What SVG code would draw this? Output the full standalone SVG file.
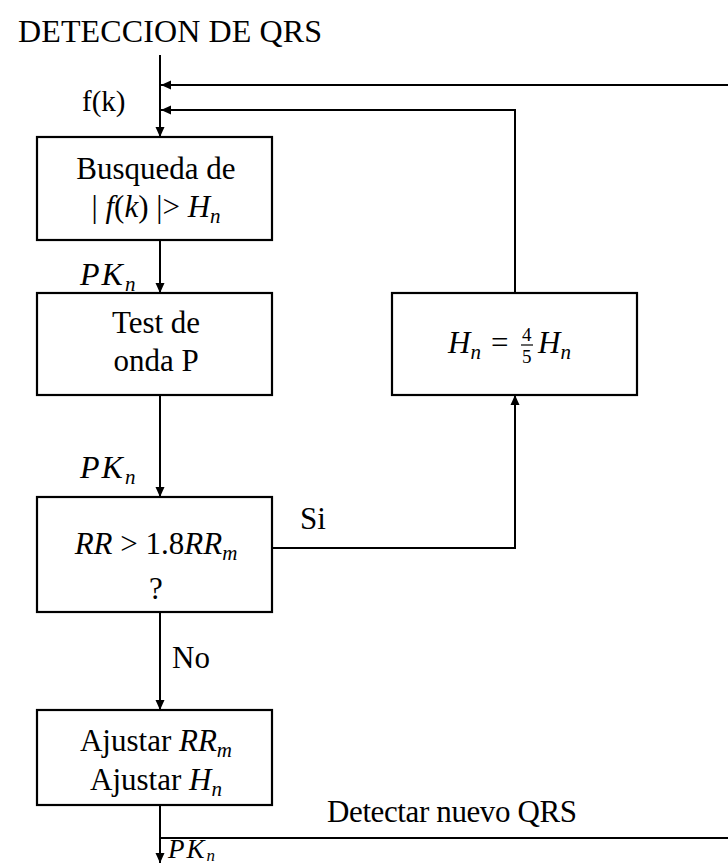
<svg xmlns="http://www.w3.org/2000/svg" width="728" height="864" viewBox="0 0 728 864">
<defs>
<marker id="ah" viewBox="0 0 10 10" refX="10" refY="5" markerWidth="10" markerHeight="10" markerUnits="userSpaceOnUse" orient="auto">
<path d="M0,0.5 L10,5 L0,9.5 z" fill="#000"/>
</marker>
<style>
.box{fill:#fff;stroke:#000;stroke-width:2.2}
.ln{fill:none;stroke:#000;stroke-width:2}
.t{font-family:"Liberation Serif","Times New Roman",serif;font-size:31px;fill:#000}
.c{text-anchor:middle}
.i{font-style:italic}
.s{font-size:21px;font-style:italic}
.pk{font-style:italic;font-size:32px;letter-spacing:2px}
</style>
</defs>
<rect width="728" height="864" fill="#fff"/>
<text class="t" x="18" y="42" style="font-size:32px" textLength="304">DETECCION DE QRS</text>
<g id="connectors">
<line class="ln" x1="160" y1="55" x2="160" y2="137" marker-end="url(#ah)"/>
<line class="ln" x1="728" y1="85" x2="161" y2="85" marker-end="url(#ah)"/>
<polyline class="ln" points="515,293 515,110 161,110" marker-end="url(#ah)"/>
<line class="ln" x1="160" y1="240" x2="160" y2="293" marker-end="url(#ah)"/>
<line class="ln" x1="160" y1="395" x2="160" y2="497" marker-end="url(#ah)"/>
<polyline class="ln" points="272,548 515,548 515,395" marker-end="url(#ah)"/>
<line class="ln" x1="160" y1="612" x2="160" y2="710" marker-end="url(#ah)"/>
<line class="ln" x1="160" y1="805" x2="160" y2="863" marker-end="url(#ah)"/>
<line class="ln" x1="160" y1="838" x2="728" y2="838"/>
<text class="t" x="82" y="111" style="font-size:29px">f(k)</text>
<text class="t pk" x="80" y="285">PK<tspan class="s" dy="6">n</tspan></text>
<text class="t pk" x="80" y="478">PK<tspan class="s" dy="6">n</tspan></text>
<text class="t" x="300" y="529">Si</text>
<text class="t" x="172" y="668">No</text>
<text class="t" x="327" y="822" textLength="250">Detectar nuevo QRS</text>
<text class="t pk" x="168" y="858" style="font-size:27px">PK<tspan class="s" dy="3" style="font-size:17px">n</tspan></text>
</g>
<g id="busqueda">
<rect class="box" x="37" y="137" width="235" height="103"/>
<text class="t c" x="156" y="179">Busqueda de</text>
<text class="t c" x="156" y="217">| <tspan class="i">f</tspan>(<tspan class="i">k</tspan>) |&gt; <tspan class="i">H</tspan><tspan class="s" dy="6">n</tspan></text>
</g>
<g id="test">
<rect class="box" x="37" y="293" width="235" height="102"/>
<text class="t c" x="156" y="333">Test de</text>
<text class="t c" x="156" y="371">onda P</text>
</g>
<g id="rr">
<rect class="box" x="37" y="497" width="235" height="115"/>
<text class="t c" x="156" y="554"><tspan class="i">RR</tspan> &gt; 1.8<tspan class="i">RR</tspan><tspan class="s" dy="6">m</tspan></text>
<text class="t c" x="156" y="599">?</text>
</g>
<g id="hn">
<rect class="box" x="392" y="293" width="245" height="102"/>
<text class="t i" x="448" y="353">H<tspan class="s" dy="6">n</tspan></text>
<text class="t" x="491" y="353">=</text>
<text class="t" x="522" y="341" style="font-size:19px">4</text>
<line x1="521" y1="345" x2="533" y2="345" stroke="#000" stroke-width="1.2"/>
<text class="t" x="522" y="363" style="font-size:19px">5</text>
<text class="t i" x="538" y="353">H<tspan class="s" dy="6">n</tspan></text>
</g>
<g id="ajustar">
<rect class="box" x="37" y="710" width="235" height="95"/>
<text class="t c" x="156" y="751">Ajustar <tspan class="i">RR</tspan><tspan class="s" dy="6">m</tspan></text>
<text class="t c" x="156" y="790">Ajustar <tspan class="i">H</tspan><tspan class="s" dy="6">n</tspan></text>
</g>
</svg>
